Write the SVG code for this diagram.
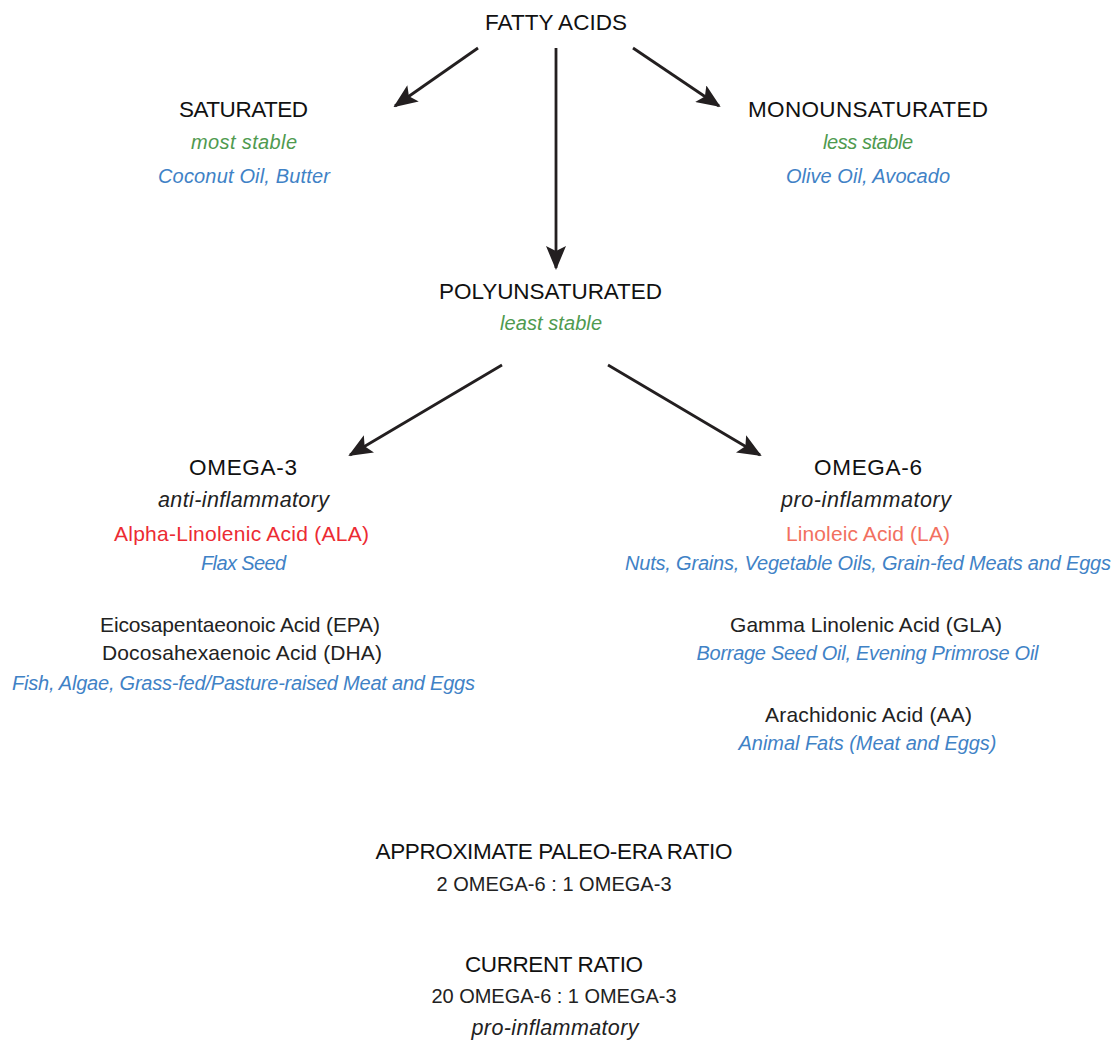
<svg xmlns="http://www.w3.org/2000/svg" width="1116" height="1040" viewBox="0 0 1116 1040">
<defs>
<marker id="ah" viewBox="0 0 24 20" refX="22" refY="10" markerWidth="24" markerHeight="20" markerUnits="userSpaceOnUse" orient="auto">
<path d="M0,0 L24,10 L0,20 L5,10 Z" fill="#231f20"/>
</marker>
<style>
text{font-family:"Liberation Sans",Arial,sans-serif;text-anchor:middle;}
.h{font-size:22.5px;fill:#111;}
.s{font-size:21px;fill:#222;}
.i{font-style:italic;font-size:20px;}
.k{font-size:21.5px;}
.g{fill:#4f9a4f;}
.b{fill:#3f82c6;}
.r{fill:#ec2b33;}
.p{fill:#f2705f;}
.c line{stroke:#231f20;stroke-width:2.8;marker-end:url(#ah);}
</style>
</defs>
<rect width="1116" height="1040" fill="#fff"/>
<g class="c" id="connectors">
<line x1="478" y1="48" x2="395" y2="106"/>
<line x1="556" y1="48" x2="556" y2="268"/>
<line x1="633" y1="48" x2="719" y2="106"/>
<line x1="502" y1="365" x2="350" y2="455"/>
<line x1="608" y1="365" x2="760" y2="455"/>
</g>
<g id="fatty"><text class="h" x="556" y="30" textLength="142">FATTY ACIDS</text></g>
<g id="saturated">
<text class="h" x="243.5" y="117" textLength="129">SATURATED</text>
<text class="s i g" x="244" y="149" textLength="106">most stable</text>
<text class="s i b" x="244" y="183" textLength="172">Coconut Oil, Butter</text>
</g>
<g id="mono">
<text class="h" x="868" y="117" textLength="240">MONOUNSATURATED</text>
<text class="s i g" x="868" y="149" textLength="90">less stable</text>
<text class="s i b" x="868" y="183" textLength="164">Olive Oil, Avocado</text>
</g>
<g id="poly">
<text class="h" x="550.5" y="299" textLength="223">POLYUNSATURATED</text>
<text class="s i g" x="551" y="330" textLength="102">least stable</text>
</g>
<g id="omega3">
<text class="h" x="243" y="475" textLength="108">OMEGA-3</text>
<text class="s i k" x="243.5" y="507" textLength="171">anti-inflammatory</text>
<text class="s r" x="241.5" y="541" textLength="255">Alpha-Linolenic Acid (ALA)</text>
<text class="s i b" x="243.5" y="570" textLength="85">Flax Seed</text>
<text class="s" x="240" y="632" textLength="280">Eicosapentaeonoic Acid (EPA)</text>
<text class="s" x="242" y="660" textLength="280">Docosahexaenoic Acid (DHA)</text>
<text class="s i b" x="243.5" y="690" textLength="463">Fish, Algae, Grass-fed/Pasture-raised Meat and Eggs</text>
</g>
<g id="omega6">
<text class="h" x="868" y="475" textLength="108">OMEGA-6</text>
<text class="s i k" x="866" y="507" textLength="170">pro-inflammatory</text>
<text class="s p" x="868" y="541" textLength="164">Linoleic Acid (LA)</text>
<text class="s i b" x="868" y="570" textLength="486">Nuts, Grains, Vegetable Oils, Grain-fed Meats and Eggs</text>
<text class="s" x="866" y="632" textLength="272">Gamma Linolenic Acid (GLA)</text>
<text class="s i b" x="867.5" y="660" textLength="342">Borrage Seed Oil, Evening Primrose Oil</text>
<text class="s" x="868.5" y="722" textLength="207">Arachidonic Acid (AA)</text>
<text class="s i b" x="867.5" y="750" textLength="258">Animal Fats (Meat and Eggs)</text>
</g>
<g id="paleo">
<text class="h" x="554" y="859" textLength="357">APPROXIMATE PALEO-ERA RATIO</text>
<text class="s" x="554" y="891" style="font-size:20px" textLength="235">2 OMEGA-6 : 1 OMEGA-3</text>
</g>
<g id="current">
<text class="h" x="554" y="972" textLength="178">CURRENT RATIO</text>
<text class="s" x="554" y="1003" style="font-size:20px" textLength="245">20 OMEGA-6 : 1 OMEGA-3</text>
<text class="s i k" x="555" y="1035" textLength="167">pro-inflammatory</text>
</g>
</svg>
